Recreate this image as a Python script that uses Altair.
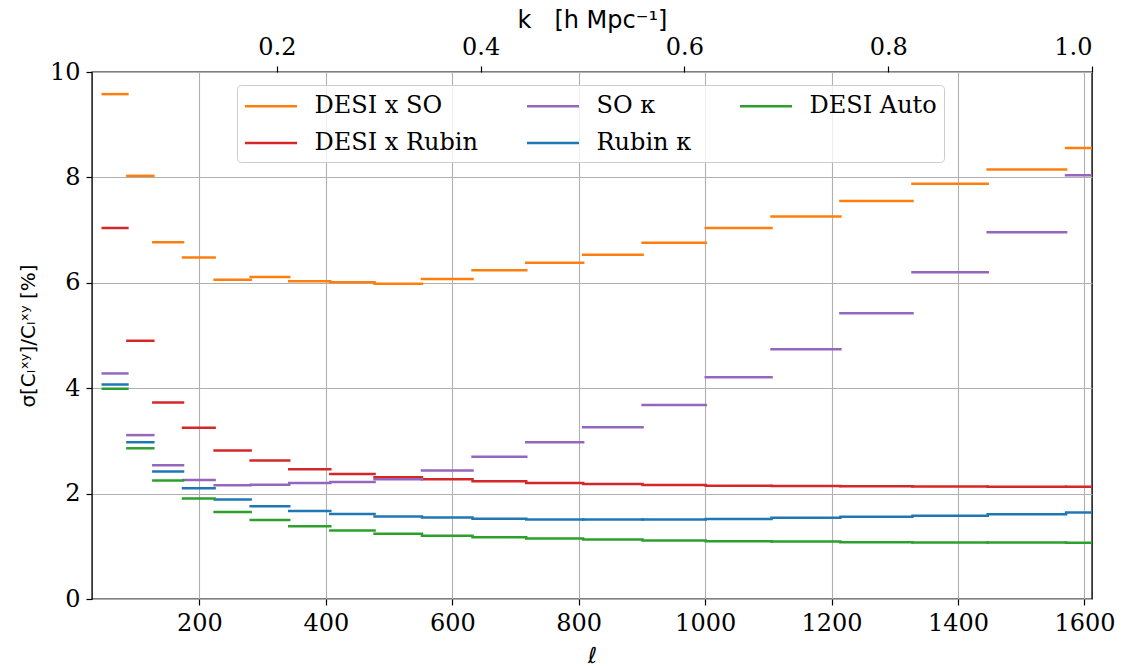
import altair as alt
import pandas as pd

# Bin edges in multipole ell (20 bins)
edges = [47, 86, 127, 174, 224, 281, 342, 407, 477, 552, 632, 717, 807, 901,
         1001, 1105, 1214, 1328, 1447, 1571, 1700]

desi_so = [9.58, 8.03, 6.77, 6.48, 6.06, 6.11, 6.03, 6.01, 5.98, 6.07,
           6.24, 6.38, 6.53, 6.76, 7.04, 7.26, 7.55, 7.88, 8.15, 8.56]
desi_rubin = [7.04, 4.90, 3.73, 3.25, 2.82, 2.63, 2.46, 2.37, 2.31, 2.27,
              2.235, 2.20, 2.18, 2.165, 2.15, 2.145, 2.14, 2.135, 2.13, 2.13]
so_kappa = [4.28, 3.11, 2.54, 2.26, 2.16, 2.17, 2.20, 2.22, 2.27, 2.44,
            2.70, 2.975, 3.26, 3.68, 4.21, 4.74, 5.42, 6.20, 6.96, 8.04]
rubin_kappa = [4.07, 2.975, 2.42, 2.10, 1.89, 1.76, 1.67, 1.615, 1.565, 1.545,
               1.525, 1.51, 1.507, 1.507, 1.52, 1.54, 1.56, 1.58, 1.61, 1.64]
desi_auto = [3.99, 2.86, 2.25, 1.905, 1.65, 1.50, 1.38, 1.30, 1.24, 1.20,
             1.17, 1.146, 1.127, 1.108, 1.096, 1.09, 1.078, 1.07, 1.07, 1.065]

series_names = ["DESI x SO", "DESI x Rubin", "SO κ", "Rubin κ", "DESI Auto"]
series_colors = ["#ff7f0e", "#d62728", "#9467bd", "#1f77b4", "#2ca02c"]
series_values = [desi_so, desi_rubin, so_kappa, rubin_kappa, desi_auto]

x_ticks = [200, 400, 600, 800, 1000, 1200, 1400, 1600]
y_ticks = [0, 2, 4, 6, 8, 10]
k_ticks = [0.2, 0.4, 0.6, 0.8, 1.0]
ell_min, ell_max = 30, 1612  # k = ell / ell_max on the top axis

rows = []
for name, vals in zip(series_names, series_values):
    for i, v in enumerate(vals):
        rows.append({"series": name, "lo": edges[i], "hi": edges[i + 1], "val": v})
df = pd.DataFrame(rows)

SERIF = "DejaVu Serif"
SANS = "DejaVu Sans"
NB = "\u00a0"

main = alt.Chart(df).mark_rule(strokeWidth=2.5, strokeCap="square", clip=True).encode(
    x=alt.X("lo:Q",
            scale=alt.Scale(domain=[ell_min, ell_max], nice=False, zero=False),
            axis=alt.Axis(values=x_ticks, format="d", title="ℓ", grid=True,
                          labelFont=SERIF, labelFontSize=24, labelPadding=6,
                          titleFont=SANS, titleFontStyle="italic", titleFontSize=22,
                          titleFontWeight="normal", titleBaseline="alphabetic",
                          titleY=63)),
    x2="hi:Q",
    y=alt.Y("val:Q",
            scale=alt.Scale(domain=[0, 10], nice=False),
            axis=alt.Axis(values=y_ticks, grid=True,
                          title="σ[Cₗˣʸ]/Cₗˣʸ [%]",
                          labelFont=SERIF, labelFontSize=24, labelPadding=6,
                          titleFont=SANS, titleFontSize=20, titleFontWeight="normal",
                          titlePadding=11)),
    color=alt.Color("series:N",
                    scale=alt.Scale(domain=series_names, range=series_colors),
                    legend=alt.Legend(orient="none", legendX=145, legendY=13,
                                      columns=3, title=None,
                                      symbolType="M-1,0H3", symbolSize=676,
                                      symbolStrokeWidth=2.5,
                                      labelFont=SERIF, labelFontSize=24,
                                      labelOffset=42, columnPadding=43,
                                      rowPadding=10, padding=6.5,
                                      fillColor="rgba(255,255,255,0.8)",
                                      strokeColor="#cccccc", cornerRadius=4,
                                      labelLimit=400)),
)

top = alt.Chart(df).transform_calculate(
    k=f"datum.lo / {ell_max}"
).mark_rule(opacity=0, clip=True).encode(
    x=alt.X("k:Q",
            scale=alt.Scale(domain=[ell_min / ell_max, 1.0], nice=False, zero=False),
            axis=alt.Axis(orient="top", values=k_ticks, format=".1f", grid=False,
                          title=f"k{NB}{NB}{NB}[h{NB}Mpc⁻¹]",
                          labelFont=SERIF, labelFontSize=24, labelPadding=7,
                          titleFont=SANS, titleFontSize=24, titleFontWeight="normal",
                          titlePadding=3)),
)

chart = alt.layer(main, top).resolve_scale(x="independent").properties(
    width=1000, height=527,
    autosize=alt.AutoSizeParams(type="none"),
    padding={"left": 92, "top": 72, "right": 34, "bottom": 67},
).configure_view(
    stroke="black", strokeWidth=1.4
).configure_axis(
    domain=False, tickColor="black", tickWidth=1.2, tickSize=6,
    labelColor="black", titleColor="black",
    gridColor="#b0b0b0", gridWidth=1.1,
)

chart.save("out.html", embed_options={"renderer": "svg", "actions": False})
